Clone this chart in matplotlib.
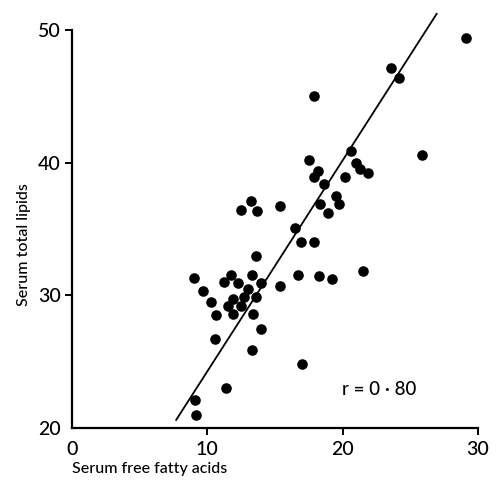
import numpy as np
import matplotlib.pyplot as plt

# Serum free fatty acids (x) vs serum total lipids (y)
ffa = [9.0, 9.66, 10.3, 10.67, 10.55, 11.2, 11.75, 12.3, 11.9, 11.55,
       11.9, 12.5, 12.7, 13.0, 13.3, 13.6, 14.0, 13.35, 13.95, 13.3,
       13.6, 12.5, 13.2, 13.7, 11.35, 9.07, 9.19, 15.35, 15.4, 29.1,
       23.6, 24.2, 17.9, 20.6, 25.9, 17.5, 18.2, 17.9, 18.6, 21.0,
       21.3, 21.9, 20.2, 19.5, 19.7, 18.3, 18.9, 16.5, 16.9, 17.9,
       16.7, 18.25, 19.2, 21.5, 17.0]
lipids = [31.3, 30.35, 29.5, 28.5, 26.7, 31.0, 31.5, 30.9, 29.7, 29.2,
          28.6, 29.2, 29.9, 30.5, 31.5, 29.9, 30.9, 28.6, 27.5, 25.9,
          33.0, 36.4, 37.1, 36.35, 23.0, 22.1, 21.0, 36.75, 30.7, 49.4,
          47.1, 46.35, 45.0, 40.9, 40.6, 40.2, 39.4, 38.9, 38.4, 40.0,
          39.5, 39.2, 38.9, 37.5, 36.9, 36.9, 36.2, 35.05, 34.0, 34.0,
          31.5, 31.45, 31.25, 31.85, 24.8]

# regression line as drawn
line_x = np.array([7.7, 26.95])
slope, intercept = 1.59, 8.37

xticks = [0, 10, 20, 30]
yticks = [20, 30, 40, 50]

plt.rcParams['font.family'] = ['Lato', 'DejaVu Sans']

fig = plt.figure(figsize=(5.01, 4.8), dpi=100)
ax = fig.add_axes([0.1437, 0.1083, 0.8103, 0.8292])

ax.scatter(ffa, lipids, s=58, color='black', zorder=3, linewidths=0)
ax.plot(line_x, slope * line_x + intercept, color='black', lw=1.3, clip_on=False)

ax.set_xlim(0, 30)
ax.set_ylim(20, 50)
ax.set_xticks(xticks)
ax.set_yticks(yticks)
ax.tick_params(direction='out', length=5, width=1.4, labelsize=14)
ax.tick_params(axis='x', pad=4)
ax.tick_params(axis='y', pad=3)
ax.xaxis.get_major_ticks()[0].tick1line.set_visible(False)
ax.yaxis.get_major_ticks()[0].tick1line.set_visible(False)
for lab in ax.get_xticklabels() + ax.get_yticklabels():
    lab.set_fontweight('medium')

for side in ['top', 'right']:
    ax.spines[side].set_visible(False)
for side in ['left', 'bottom']:
    ax.spines[side].set_linewidth(1.6)

ax.text(0.0, -0.103, 'Serum free fatty acids', transform=ax.transAxes,
        fontsize=11.5, fontweight='medium', ha='left', va='center')
ax.text(-0.118, 0.46, 'Serum total lipids', transform=ax.transAxes,
        fontsize=11.5, fontweight='medium', rotation=90, ha='center', va='center')
ax.text(19.96, 22.9, 'r = 0 · 80', fontsize=13.5, fontweight='medium',
        ha='left', va='center')

fig.savefig('out.png', dpi=100)
